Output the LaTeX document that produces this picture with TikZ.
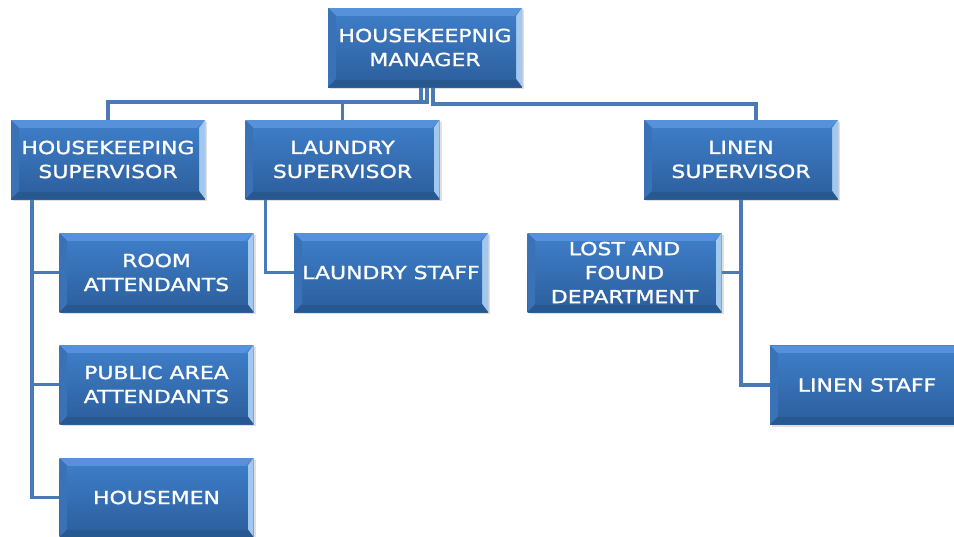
\documentclass[tikz,border=0pt]{standalone}
\usepackage{fontspec}
\newfontfamily\boxfont[FakeStretch=1.22,FakeBold=1.3]{DejaVu Sans}
\usetikzlibrary{calc,shadows,backgrounds}
\definecolor{bluetop}{HTML}{3D7CC6}
\definecolor{bluebot}{HTML}{2E61A0}
\definecolor{bevtop}{HTML}{5592DA}
\definecolor{bevright}{HTML}{A3C8EE}
\definecolor{bevleft}{HTML}{3A72B8}
\definecolor{bevbot}{HTML}{285890}
\definecolor{linecol}{HTML}{4A7AB5}
\tikzset{
  orgbox/.style={minimum width=194pt, minimum height=79pt, inner sep=0pt,
    top color=bluetop, bottom color=bluebot, text=white, align=center,
    font={\boxfont\fontsize{18}{24}\selectfont},
    drop shadow={opacity=0.25, shadow xshift=2pt, shadow yshift=-2pt},
    path picture={
      \coordinate (pnw) at (path picture bounding box.north west);
      \coordinate (pne) at (path picture bounding box.north east);
      \coordinate (psw) at (path picture bounding box.south west);
      \coordinate (pse) at (path picture bounding box.south east);
      \fill[bevtop] (pnw) -- (pne) -- ([shift={(-8pt,-8pt)}]pne) -- ([shift={(8pt,-8pt)}]pnw) -- cycle;
      \fill[bevleft] (pnw) -- ([shift={(8pt,-8pt)}]pnw) -- ([shift={(8pt,8pt)}]psw) -- (psw) -- cycle;
      \fill[bevright] (pne) -- ([shift={(-6pt,-8pt)}]pne) -- ([shift={(-6pt,8pt)}]pse) -- (pse) -- cycle;
      \fill[bevbot] (psw) -- ([shift={(8pt,8pt)}]psw) -- ([shift={(-6pt,8pt)}]pse) -- (pse) -- cycle;
      \shade[top color=bluetop, bottom color=bluebot] ([shift={(8pt,-8pt)}]pnw) rectangle ([shift={(-6pt,8pt)}]pse);
    }},
  conn/.style={draw=linecol, line width=3.5pt}
}
\begin{document}
\begin{tikzpicture}[x=1pt,y=-1pt]
\useasboundingbox (0,0) rectangle (954,536);
\node[orgbox] (mgr) at (425,47.5) {HOUSEKEEPNIG\\MANAGER};
\node[orgbox] (hks) at (108,159.5) {HOUSEKEEPING\\SUPERVISOR};
\node[orgbox] (ls) at (342.5,159.5) {LAUNDRY\\SUPERVISOR};
\node[orgbox] (lns) at (741,159.5) {LINEN\\SUPERVISOR};
\node[orgbox] (ra) at (156.5,272.5) {ROOM\\ATTENDANTS};
\node[orgbox] (pa) at (156.5,384.5) {PUBLIC AREA\\ATTENDANTS};
\node[orgbox] (hm) at (156.5,497.5) {HOUSEMEN};
\node[orgbox] (lst) at (391,272.5) {LAUNDRY STAFF};
\node[orgbox] (lf) at (624.5,272.5) {LOST AND\\FOUND\\DEPARTMENT};
\node[orgbox] (lnst) at (867,385) {LINEN STAFF};
\begin{scope}[on background layer]
\draw[conn] ([xshift=-4pt]mgr.south) -- ++(0,15) -| (hks.north);
\draw[conn] ([xshift=2pt]mgr.south) -- ++(0,15) -| (ls.north);
\draw[conn] ([xshift=8pt]mgr.south) -- ++(0,17) -| ([xshift=15pt]lns.north);
\draw[conn] ([xshift=21pt]hks.south west) |- (ra.west);
\draw[conn] ([xshift=21pt]hks.south west) |- (pa.west);
\draw[conn] ([xshift=21pt]hks.south west) |- (hm.west);
\draw[conn] ([xshift=20pt]ls.south west) |- (lst.west);
\draw[conn] (lns.south) |- (lf.east);
\draw[conn] (lns.south) |- (lnst.west);
\end{scope}
\end{tikzpicture}
\end{document}
